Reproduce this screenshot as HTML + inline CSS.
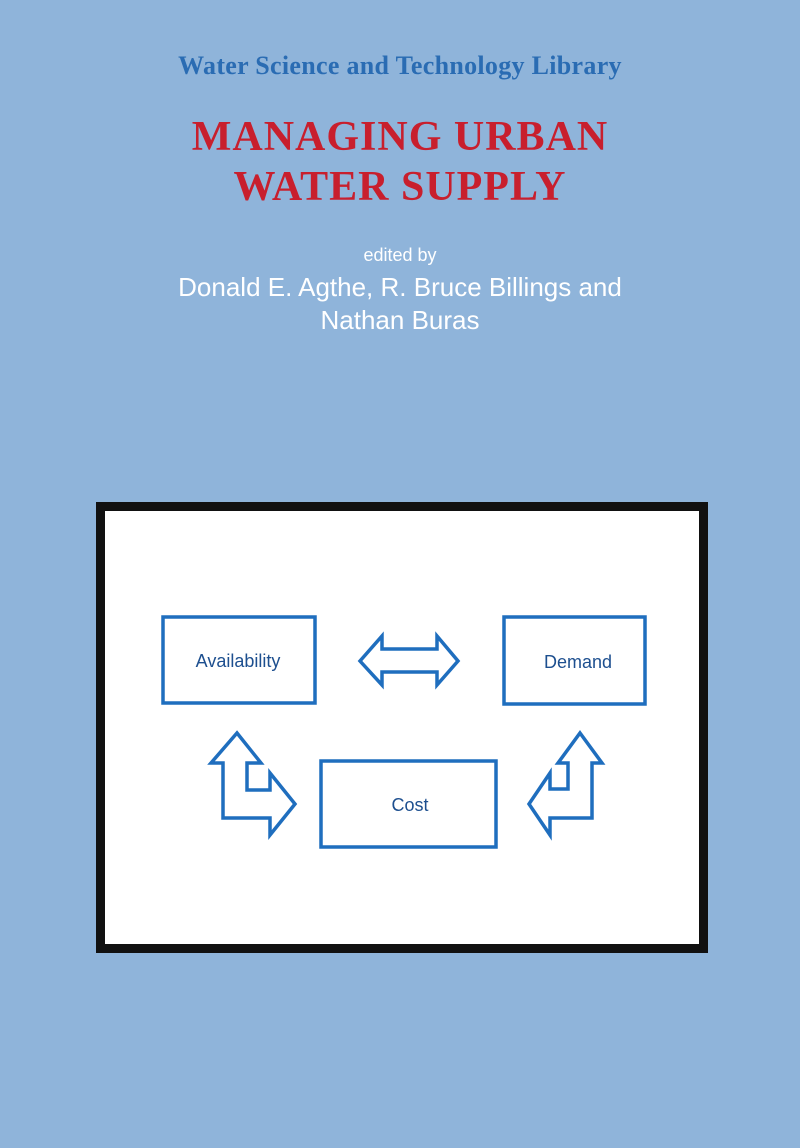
<!DOCTYPE html>
<html><head><meta charset="utf-8"><style>
html,body{margin:0;padding:0}
body{width:800px;height:1148px;background:#8fb4da;position:relative;overflow:hidden;font-family:"Liberation Sans",sans-serif}
.t{position:absolute;left:0;width:800px;text-align:center;white-space:nowrap}
</style></head><body>
<div class="t" style="top:51px;font-family:'Liberation Serif',serif;font-weight:bold;font-size:26px;color:#2a6cb3;letter-spacing:0.3px;">Water Science and Technology Library</div>
<div class="t" style="top:112px;font-family:'Liberation Serif',serif;font-weight:bold;font-size:42px;line-height:50px;color:#c81f2d;letter-spacing:1px;">MANAGING URBAN<br>WATER SUPPLY</div>
<div class="t" style="top:245px;font-size:18px;color:#fff;">edited by</div>
<div class="t" style="top:271px;font-size:26px;line-height:33px;color:#fff;">Donald E. Agthe, R. Bruce Billings and<br>Nathan Buras</div>
<svg width="800" height="1148" style="position:absolute;left:0;top:0">
<rect x="100.5" y="506.5" width="603" height="442" fill="#fff" stroke="#111" stroke-width="9"/>
<g fill="none" stroke="#1f6ebe" stroke-width="3.5">
<rect x="163" y="617" width="152" height="86"/>
<rect x="504" y="617" width="141" height="87"/>
<rect x="321" y="761" width="175" height="86"/>
<polygon points="360,661 382,636 382,649 437,649 437,636 458,661 437,685 437,672 382,672 382,685"/>
<polygon points="237,733 261,763 247,763 247,790 270,790 270,773 295,804 270,835 270,818 223,818 223,763 211,763"/>
<polygon points="580,733 602,763 592,763 592,818 550,818 550,835 529,804 550,773 550,789 568,789 568,763 558,763"/>
</g>
<g fill="#1d4f8f" font-family="Liberation Sans, sans-serif" font-size="18" text-anchor="middle">
<text x="238" y="667">Availability</text>
<text x="578" y="668">Demand</text>
<text x="410" y="811">Cost</text>
</g>
</svg>
</body></html>
